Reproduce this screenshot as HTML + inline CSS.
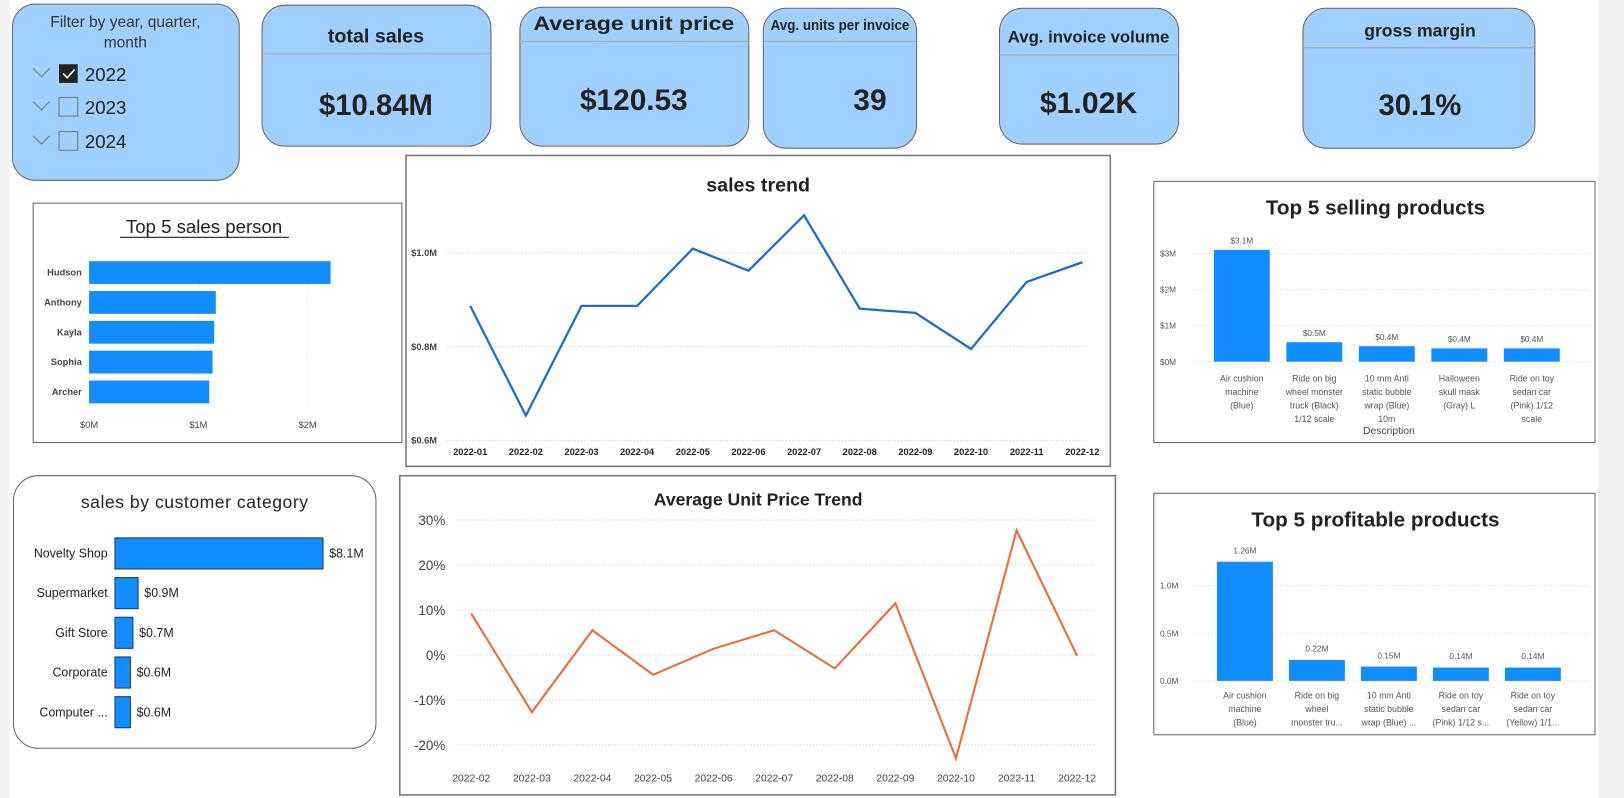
<!DOCTYPE html>
<html><head><meta charset="utf-8"><style>
html,body{margin:0;padding:0;background:#fff;overflow:hidden}
svg{display:block}
text{font-family:"Liberation Sans",sans-serif}
.n{font-family:"Liberation Sans Narrow","Liberation Sans",sans-serif}
</style></head><body>
<svg id="s" width="1624" height="798" viewBox="0 0 1568 770" preserveAspectRatio="none" xmlns="http://www.w3.org/2000/svg">
<rect x="0" y="0" width="1568" height="770" fill="#fff"/>
<rect x="0" y="0" width="10" height="770" fill="#f4f4f4"/>
<rect x="1543" y="0" width="25" height="770" fill="#f0f0f0"/>

<g>
<rect x="12" y="4" width="219" height="170" rx="22" fill="#a0d0ff" stroke="#666" stroke-width="1"/>
<text x="121" y="26" font-size="15" text-anchor="middle" fill="#333">Filter by year, quarter,</text>
<text x="121" y="46" font-size="15" text-anchor="middle" fill="#333">month</text>
<g><path d="M32 66 l8 8 l8 -8" fill="none" stroke="#777"/><rect x="57" y="62" width="18" height="18" fill="#222"/><path d="M61 71 l4 4 l7 -8" fill="none" stroke="#fff" stroke-width="1.5"/><text x="82" y="78" font-size="18" fill="#222">2022</text></g>
<g><path d="M32 98 l8 8 l8 -8" fill="none" stroke="#777"/><rect x="57" y="94" width="18" height="18" fill="none" stroke="#777"/><text x="82" y="110" font-size="18" fill="#222">2023</text></g>
<g><path d="M32 131 l8 8 l8 -8" fill="none" stroke="#777"/><rect x="57" y="127" width="18" height="18" fill="none" stroke="#777"/><text x="82" y="143" font-size="18" fill="#222">2024</text></g>
</g>

<g><rect x="253" y="5" width="221" height="136" rx="22" fill="#a0d0ff" stroke="#666"/><line x1="253" y1="52" x2="474" y2="52" stroke="#aaa"/><text x="363" y="41" font-size="19" font-weight="bold" text-anchor="middle" fill="#222">total sales</text><text class="n" x="363" y="111" font-size="29" font-weight="bold" text-anchor="middle" fill="#222" textLength="110" lengthAdjust="spacingAndGlyphs">$10.84M</text></g>
<g><rect x="502" y="7" width="221" height="134" rx="22" fill="#a0d0ff" stroke="#666"/><line x1="502" y1="40" x2="723" y2="40" stroke="#aaa"/><text x="612" y="29" font-size="19" font-weight="bold" text-anchor="middle" fill="#222" textLength="194" lengthAdjust="spacingAndGlyphs">Average unit price</text><text class="n" x="612" y="106" font-size="29" font-weight="bold" text-anchor="middle" fill="#222" textLength="104" lengthAdjust="spacingAndGlyphs">$120.53</text></g>
<g><rect x="737" y="8" width="148" height="135" rx="22" fill="#a0d0ff" stroke="#666"/><line x1="737" y1="40" x2="885" y2="40" stroke="#aaa"/><text x="811" y="29" font-size="14" font-weight="bold" text-anchor="middle" fill="#222" textLength="134" lengthAdjust="spacingAndGlyphs">Avg. units per invoice</text><text class="n" x="840" y="106" font-size="29" font-weight="bold" text-anchor="middle" fill="#222">39</text></g>
<g><rect x="965" y="8" width="173" height="131" rx="22" fill="#a0d0ff" stroke="#666"/><line x1="965" y1="53" x2="1138" y2="53" stroke="#aaa"/><text x="1051" y="41" font-size="16" font-weight="bold" text-anchor="middle" fill="#222" textLength="156" lengthAdjust="spacingAndGlyphs">Avg. invoice volume</text><text class="n" x="1051" y="109" font-size="29" font-weight="bold" text-anchor="middle" fill="#222" textLength="94" lengthAdjust="spacingAndGlyphs">$1.02K</text></g>
<g><rect x="1258" y="8" width="224" height="135" rx="22" fill="#a0d0ff" stroke="#666"/><line x1="1258" y1="46" x2="1482" y2="46" stroke="#aaa"/><text x="1371" y="35" font-size="17" font-weight="bold" text-anchor="middle" fill="#222">gross margin</text><text class="n" x="1371" y="111" font-size="29" font-weight="bold" text-anchor="middle" fill="#222" textLength="80" lengthAdjust="spacingAndGlyphs">30.1%</text></g>

<rect x="32" y="196" width="356" height="231" fill="#fff" stroke="#666"/>
<text x="197" y="225" font-size="18" text-anchor="middle" fill="#222">Top 5 sales person</text>
<line x1="116" y1="229" x2="279" y2="229" stroke="#222"/>
<rect x="392" y="150" width="680" height="300" fill="#fff" stroke="#777" stroke-width="1.5"/>
<text x="732" y="185" font-size="19" font-weight="bold" text-anchor="middle" fill="#222">sales trend</text>
<rect x="1114" y="175" width="426" height="252" fill="#fff" stroke="#666"/>
<text x="1328" y="207" font-size="20" font-weight="bold" text-anchor="middle" fill="#222">Top 5 selling products</text>
<rect x="13" y="459" width="350" height="263" rx="24" fill="#fff" stroke="#666"/>
<text x="188" y="490" font-size="17" text-anchor="middle" fill="#222" letter-spacing="0.5">sales by customer category</text>
<rect x="386" y="459" width="691" height="308" fill="#fff" stroke="#777" stroke-width="1.5"/>
<text x="732" y="488" font-size="17" font-weight="bold" text-anchor="middle" fill="#222">Average Unit Price Trend</text>
<rect x="1114" y="476" width="426" height="233" fill="#fff" stroke="#666"/>
<text x="1328" y="508" font-size="20" font-weight="bold" text-anchor="middle" fill="#222">Top 5 profitable products</text>
<g id="marks"></g>
</svg>
<script>
const trendMonths=["2022-01","2022-02","2022-03","2022-04","2022-05","2022-06","2022-07","2022-08","2022-09","2022-10","2022-11","2022-12"];
const trendSales=[0.887,0.653,0.887,0.887,1.009,0.962,1.08,0.881,0.872,0.795,0.938,0.98];
const trendTicks=[0.6,0.8,1.0];
const trendTickLabels=["$0.6M","$0.8M","$1.0M"];
const aupMonths=["2022-02","2022-03","2022-04","2022-05","2022-06","2022-07","2022-08","2022-09","2022-10","2022-11","2022-12"];
const aupValues=[9.2,-12.7,5.5,-4.4,1.4,5.5,-3.0,11.5,-23,27.7,-0.2];
const aupTicks=[-20,-10,0,10,20,30];
const persons=["Hudson","Anthony","Kayla","Sophia","Archer"];
const personSales=[2.21,1.16,1.145,1.13,1.10];
const personTicks=[0,1,2];
const categories=["Novelty Shop","Supermarket","Gift Store","Corporate","Computer ..."];
const categorySales=[8.1,0.9,0.7,0.6,0.6];
const categoryLabels=["$8.1M","$0.9M","$0.7M","$0.6M","$0.6M"];
const sellProducts=[["Air cushion","machine","(Blue)"],["Ride on big","wheel monster","truck (Black)","1/12 scale"],["10 mm Anti","static bubble","wrap (Blue)","10m"],["Halloween","skull mask","(Gray) L"],["Ride on toy","sedan car","(Pink) 1/12","scale"]];
const sellValues=[3.1,0.54,0.43,0.37,0.37];
const sellLabels=["$3.1M","$0.5M","$0.4M","$0.4M","$0.4M"];
const sellTicks=[0,1,2,3];
const profProducts=[["Air cushion","machine","(Blue)"],["Ride on big","wheel","monster tru..."],["10 mm Anti","static bubble","wrap (Blue) ..."],["Ride on toy","sedan car","(Pink) 1/12 s..."],["Ride on toy","sedan car","(Yellow) 1/1..."]];
const profValues=[1.25,0.22,0.15,0.14,0.14];
const profLabels=["1.26M","0.22M","0.15M","0.14M","0.14M"];
const profTicks=[0,0.5,1.0];
const profTickLabels=["0.0M","0.5M","1.0M"];

const NS="http://www.w3.org/2000/svg";
const root=document.getElementById('marks');
function mk(tag,attrs,txt){const e=document.createElementNS(NS,tag);for(const k in attrs)e.setAttribute(k,attrs[k]);if(txt!==undefined)e.textContent=txt;root.appendChild(e);return e;}

{const x=i=>454+i*(1045-454)/(trendMonths.length-1);const y=v=>425-(v-0.6)*(425-244)/0.4;
trendTicks.forEach((t,i)=>{const g=mk('line',{x1:432,y1:y(t),x2:1050,y2:y(t),stroke:'#ccc','stroke-dasharray':'1 2'});
const l=mk('text',{x:397,y:y(t)+3,'font-size':9,fill:'#444','font-weight':'bold'},trendTickLabels[i]);});
trendMonths.forEach((m,i)=>{const l=mk('text',{x:x(i),y:439,'font-size':9,fill:'#222','font-weight':'bold','text-anchor':'middle'},m);});
const p=mk('polyline',{points:trendSales.map((v,i)=>x(i)+','+y(v)).join(' '),fill:'none',stroke:'#1a6fc9','stroke-width':2.2});
}

{const x=i=>455+i*(1040-455)/(aupMonths.length-1);const y=v=>632-v*4.34;
aupTicks.forEach(t=>{const g=mk('line',{x1:440,y1:y(t),x2:1058,y2:y(t),stroke:'#ccc','stroke-dasharray':'1 2'});
const l=mk('text',{x:430,y:y(t)+5,'font-size':13,fill:'#444','text-anchor':'end'},t+'%');});
aupMonths.forEach((m,i)=>{const l=mk('text',{x:x(i),y:754,'font-size':10,fill:'#444','text-anchor':'middle'},m);});
const p=mk('polyline',{points:aupValues.map((v,i)=>x(i)+','+y(v)).join(' '),fill:'none',stroke:'#ef6b33','stroke-width':2});
}

{const x=v=>86+v*105.5;
personTicks.forEach(t=>{const g=mk('line',{x1:x(t),y1:250,x2:x(t),y2:392,stroke:'#ddd','stroke-dasharray':'1 2'});
const l=mk('text',{x:x(t),y:413,'font-size':9,fill:'#444','text-anchor':'middle'},'$'+t+'M');});
persons.forEach((n,i)=>{const cy=263+i*28.8;
const b=mk('rect',{x:86,y:cy-11,width:x(personSales[i])-86,height:22,fill:'#118dff'});
const l=mk('text',{x:79,y:cy+3,'font-size':9,'font-weight':'bold',fill:'#444','text-anchor':'end'},n);});}

{const x=v=>111+v*24.8;
categories.forEach((n,i)=>{const cy=534+i*38.3;const w=x(categorySales[i])-111;const h=30;
const b=mk('rect',{x:111,y:cy-h/2,width:w,height:h,fill:'#118dff',stroke:'#1a3a6a','stroke-width':1});
const l=mk('text',{x:104,y:cy+4,'font-size':12,fill:'#222','text-anchor':'end'},n);
const v=mk('text',{x:111+w+6,y:cy+4,'font-size':12,fill:'#222'},categoryLabels[i]);});}

{const y=v=>349-v*34.8;const cx=i=>1199+i*70;
sellTicks.forEach(t=>{const g=mk('line',{x1:1152,y1:y(t),x2:1535,y2:y(t),stroke:'#ddd','stroke-dasharray':'1 2'});
const l=mk('text',{x:1120,y:y(t)+3,'font-size':8,fill:'#555'},'$'+t+'M');});
sellValues.forEach((v,i)=>{const b=mk('rect',{x:cx(i)-27,y:y(v),width:54,height:y(0)-y(v),fill:'#118dff'});
const l=mk('text',{x:cx(i),y:y(v)-6,'font-size':8,fill:'#555','text-anchor':'middle'},sellLabels[i]);
sellProducts[i].forEach((s,j)=>{const t=mk('text',{x:cx(i),y:368+j*13,'font-size':8.5,fill:'#555','text-anchor':'middle'},s);});});
const d=mk('text',{x:1341,y:419,'font-size':10,fill:'#444','text-anchor':'middle'},'Description');}

{const y=v=>657-v*92;const cx=i=>1202+i*69.5;
profTicks.forEach((t,i)=>{const g=mk('line',{x1:1152,y1:y(t),x2:1535,y2:y(t),stroke:'#ddd','stroke-dasharray':'1 2'});
const l=mk('text',{x:1120,y:y(t)+3,'font-size':8,fill:'#555'},profTickLabels[i]);});
profValues.forEach((v,i)=>{const b=mk('rect',{x:cx(i)-27,y:y(v),width:54,height:y(0)-y(v),fill:'#118dff'});
const l=mk('text',{x:cx(i),y:y(v)-8,'font-size':8,fill:'#555','text-anchor':'middle'},profLabels[i]);
profProducts[i].forEach((s,j)=>{const t=mk('text',{x:cx(i),y:674+j*13,'font-size':8.5,fill:'#555','text-anchor':'middle'},s);});});}
</script>
</body></html>
